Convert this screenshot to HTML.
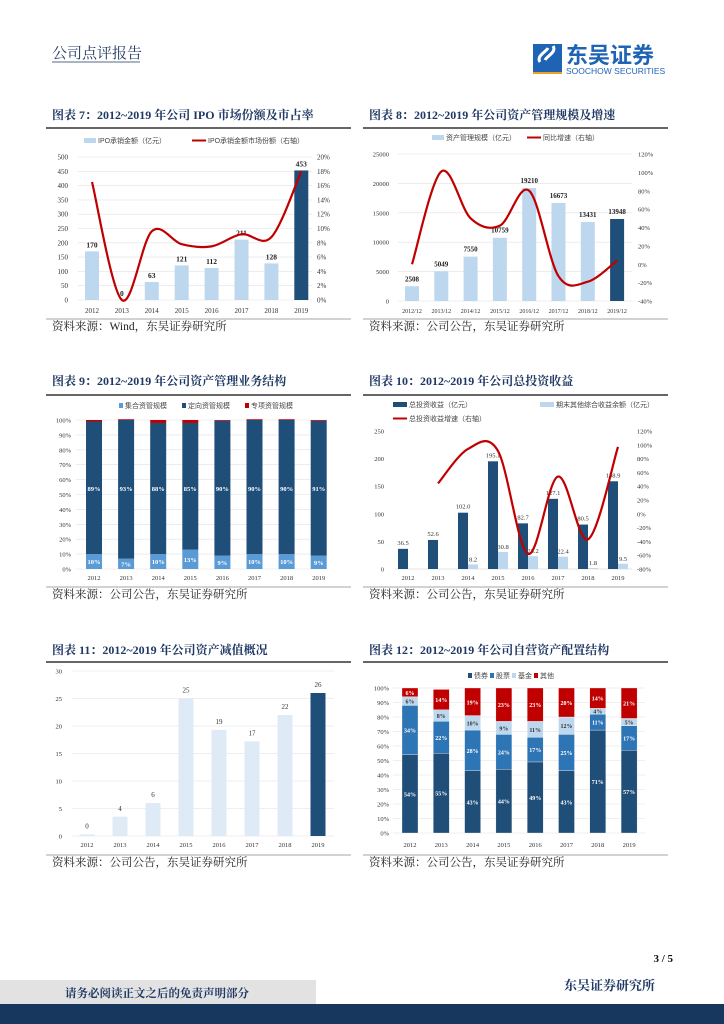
<!DOCTYPE html>
<html><head><meta charset="utf-8">
<style>
html,body{margin:0;padding:0;background:#fff}
body{width:724px;height:1024px;position:relative;overflow:hidden;font-family:"Liberation Serif","Noto Serif CJK SC",serif}
svg{position:absolute;left:0;top:0}
</style></head>
<body>
<svg id="s" width="724" height="1024" xmlns="http://www.w3.org/2000/svg"></svg>
<script>
// ---------- data ----------
const years=["2012","2013","2014","2015","2016","2017","2018","2019"];
const years12=["2012/12","2013/12","2014/12","2015/12","2016/12","2017/12","2018/12","2019/12"];
// chart 7
const ipoAmount=[170,0,63,121,112,211,128,453];
const ipoShare=[16.5,0,9.6,7.8,7.5,9.2,8.8,18];
const c7LeftTicks=[0,50,100,150,200,250,300,350,400,450,500];
const c7RightTicks=[0,2,4,6,8,10,12,14,16,18,20];
// chart 8
const amScale=[2508,5049,7550,10759,19210,16673,13431,13948];
const amGrowth=[0,101,50,42,80,-13,-19,4];
const c8LeftTicks=[0,5000,10000,15000,20000,25000];
const c8RightTicks=[-40,-20,0,20,40,60,80,100,120];
// chart 9
const amCollective=[10,7,10,13,9,10,10,9];
const amDirectional=[89,93,88,85,90.5,90,90,90.5];
const amSpecial=[1,0.5,2,2,0.5,0.5,0.5,0.5];
const c9Labels1=["10%","7%","10%","13%","9%","10%","10%","9%"];
const c9Labels2=["89%","93%","88%","85%","90%","90%","90%","91%"];
const pctTicks=[0,10,20,30,40,50,60,70,80,90,100];
// chart 10
const invIncome=[36.5,52.6,102.0,195.1,82.7,127.1,80.5,158.9];
const ociIncome=[null,null,8.2,30.8,23.2,22.4,1.8,9.5];
const invGrowth=[null,44,94,91,-58,54,-37,97];
const c10LeftTicks=[0,50,100,150,200,250];
const c10RightTicks=[-80,-60,-40,-20,0,20,40,60,80,100,120];
// chart 11
const impairment=[0.3,3.5,6,25,19.3,17.2,22,26];
const impLabels=["0","4","6","25","19","17","22","26"];
const c11Ticks=[0,5,10,15,20,25,30];
// chart 12
const bonds=[54,55,43,44,49,43,71,57];
const stocks=[34,22,28,24,17,25,11,17];
const funds=[6,8,10,9,11,12,4,5];
const others=[6,14,19,23,23,20,14,21];

// ---------- helpers ----------
const S=document.getElementById('s');
const NS="http://www.w3.org/2000/svg";
function mk(tag,attrs,parent){const e=document.createElementNS(NS,tag);for(const k in attrs)e.setAttribute(k,attrs[k]);(parent||S).appendChild(e);return e;}
function txt(x,y,t,o){const e=mk('text',Object.assign({x:x,y:y,'font-size':8,fill:'#333','font-family':'"Liberation Serif","Noto Serif CJK SC",serif'},o||{}));e.textContent=t;return e;}
function lin(d0,d1,r0,r1){return v=>r0+(v-d0)/(d1-d0)*(r1-r0);}
function smooth(pts){let d="M"+pts[0][0]+","+pts[0][1];for(let i=0;i<pts.length-1;i++){const p0=pts[i-1]||pts[i],p1=pts[i],p2=pts[i+1],p3=pts[i+2]||p2;const c1=[p1[0]+(p2[0]-p0[0])/6,p1[1]+(p2[1]-p0[1])/6],c2=[p2[0]-(p3[0]-p1[0])/6,p2[1]-(p3[1]-p1[1])/6];d+=" C"+c1[0]+","+c1[1]+" "+c2[0]+","+c2[1]+" "+p2[0]+","+p2[1];}return d;}
const NAVY="#1f4e79",LB="#bdd7ee",RED="#c00000",MB="#2e75b6",CB="#5b9bd5",VLB="#deebf7";

// ---------- page chrome ----------
let e;
e=txt(52,58,"公司点评报告",{'font-size':15,fill:'#1f3864'});


e=mk('line',{x1:52,y1:62,x2:140,y2:62,stroke:'#1f3864','stroke-width':0.8});


// logo
e=mk('g',{});


mk('rect',{x:533,y:44,width:29,height:20,fill:'#1f63b5'},e);
mk('path',{d:'M540,62 C536,56 546,52 548,48 M553,46 C557,52 547,56 545,60',stroke:'#fff','stroke-width':3,fill:'none'},e);
mk('rect',{x:533,y:64,width:29,height:8,fill:'#1f63b5'},e);
mk('rect',{x:533,y:72,width:29,height:2,fill:'#f0a020'},e);
let lt=txt(566,63,"东吴证券",{'font-size':22,'font-weight':'bold',fill:'#1f63b5','font-family':'"Noto Sans CJK SC",sans-serif'});e.appendChild(lt);
lt=txt(566,74,"SOOCHOW SECURITIES",{'font-size':8.5,fill:'#1f63b5','font-family':'"Liberation Sans",sans-serif'});e.appendChild(lt);

const panels=[
 {x:52,y:119,t:"图表 7：2012~2019 年公司 IPO 市场份额及市占率",src:"资料来源：Wind，东吴证券研究所",sy:330,ly:128,by:319},
 {x:369,y:119,t:"图表 8：2012~2019 年公司资产管理规模及增速",src:"资料来源：公司公告，东吴证券研究所",sy:330,ly:128,by:319},
 {x:52,y:385,t:"图表 9：2012~2019 年公司资产管理业务结构",src:"资料来源：公司公告，东吴证券研究所",sy:598,ly:395,by:587},
 {x:369,y:385,t:"图表 10：2012~2019 年公司总投资收益",src:"资料来源：公司公告，东吴证券研究所",sy:598,ly:395,by:587},
 {x:52,y:654,t:"图表 11：2012~2019 年公司资产减值概况",src:"资料来源：公司公告，东吴证券研究所",sy:866,ly:662,by:855},
 {x:369,y:654,t:"图表 12：2012~2019 年公司自营资产配置结构",src:"资料来源：公司公告，东吴证券研究所",sy:866,ly:662,by:855}
];
panels.forEach((p,i)=>{
 const w=305;
 e=txt(p.x,p.y,p.t,{'font-size':12,'font-weight':'bold',fill:'#1f3864'});
 
 
 e=mk('line',{x1:p.x-6,y1:p.ly,x2:p.x-6+w,y2:p.ly,stroke:'#333','stroke-width':1.5});
 
 
 e=mk('line',{x1:p.x-6,y1:p.by,x2:p.x-6+w,y2:p.by,stroke:'#888','stroke-width':0.7});
 
 
 e=txt(p.x,p.sy,p.src,{'font-size':11.5,fill:'#222'});
 
 
});

function grid(x0,x1,ys){ys.forEach(y=>{const g=mk('line',{x1:x0,y1:y,x2:x1,y2:y,stroke:'#e0e0e0','stroke-width':0.6});});}
function legendBox(x,y,c,t,w){const r=mk('rect',{x:x,y:y-5,width:w||12,height:5,fill:c});const tt=txt(x+(w||12)+2,y,t,{'font-size':7,fill:'#444','font-family':'"Liberation Sans","Noto Sans CJK SC",sans-serif'});}
function legendLine(x,y,t){const r=mk('line',{x1:x,y1:y-2.5,x2:x+14,y2:y-2.5,stroke:RED,'stroke-width':2});const tt=txt(x+16,y,t,{'font-size':7,fill:'#444','font-family':'"Liberation Sans","Noto Sans CJK SC",sans-serif'});}
function lineSeries(xs,vals,ys){const pts=[];vals.forEach((v,i)=>{if(v!==null)pts.push([xs(i),ys(v)]);});const p=mk('path',{d:smooth(pts),stroke:RED,'stroke-width':2.2,fill:'none'});}

// ---------- chart 7 ----------
{const xs=i=>92+i*29.9, y=lin(0,500,300,157), yr=lin(0,20,300,157);
 grid(78,312,c7LeftTicks.map(y));
 c7LeftTicks.forEach(t=>{const e=txt(68,y(t)+2.5,t,{'text-anchor':'end','font-size':7});});
 c7RightTicks.forEach(t=>{const e=txt(317,yr(t)+2.5,t+"%",{'font-size':7});});
 ipoAmount.forEach((v,i)=>{const b=mk('rect',{x:xs(i)-7,y:y(v),width:14,height:300-y(v),fill:i===7?NAVY:LB});
  const l=txt(xs(i),y(v)-4,v,{'text-anchor':'middle','font-size':7.5,'font-weight':'bold',fill:'#222'});
  const c=txt(xs(i),313,years[i],{'text-anchor':'middle','font-size':7});});
 lineSeries(xs,ipoShare,yr);
 legendBox(84,143,LB,"IPO承销金额（亿元）");legendLine(192,143,"IPO承销金额市场份额（右轴）");}

// ---------- chart 8 ----------
{const xs=i=>412+i*29.3, y=lin(0,25000,301,154), yr=lin(-40,120,301,154);
 grid(398,632,c8LeftTicks.map(y));
 c8LeftTicks.forEach(t=>{const e=txt(389,y(t)+2.5,t,{'text-anchor':'end','font-size':6.5});});
 c8RightTicks.forEach(t=>{const e=txt(638,yr(t)+2.5,t+"%",{'font-size':6.5});});
 amScale.forEach((v,i)=>{const b=mk('rect',{x:xs(i)-7,y:y(v),width:14,height:301-y(v),fill:i===7?NAVY:LB});
  const l=txt(xs(i),y(v)-5,v,{'text-anchor':'middle','font-size':7,'font-weight':'bold',fill:'#222'});
  const c=txt(xs(i),313,years12[i],{'text-anchor':'middle','font-size':6});});
 lineSeries(xs,amGrowth,yr);
 legendBox(432,140,LB,"资产管理规模（亿元）");legendLine(527,140,"同比增速（右轴）");}

// ---------- chart 9 ----------
{const xs=i=>94+i*32.1, y=lin(0,100,569,420);
 grid(76,327,pctTicks.map(y));
 pctTicks.forEach(t=>{const e=txt(71,y(t)+2.5,t+"%",{'text-anchor':'end','font-size':6.5});});
 years.forEach((yv,i)=>{let base=0;[[amCollective,CB],[amDirectional,NAVY],[amSpecial,RED]].forEach(([arr,c],k)=>{const v=arr[i];const b=mk('rect',{x:xs(i)-8,y:y(base+v),width:16,height:y(base)-y(base+v),fill:c});base+=v;});
  let l=txt(xs(i),y(amCollective[i]/2)+2.5,c9Labels1[i],{'text-anchor':'middle','font-size':6.5,'font-weight':'bold',fill:'#fff'});
  l=txt(xs(i),y(54)+2.5,c9Labels2[i],{'text-anchor':'middle','font-size':6.5,'font-weight':'bold',fill:'#fff'});
  const c=txt(xs(i),580,yv,{'text-anchor':'middle','font-size':6.5});});
 legendBox(119,408,CB,"集合资管规模",4);legendBox(182,408,NAVY,"定向资管规模",4);legendBox(245,408,RED,"专项资管规模",4);}

// ---------- chart 10 ----------
{const xs=i=>408+i*30, y=lin(0,250,569,431), yr=lin(-80,120,569,431);
 c10LeftTicks.forEach(t=>{const e=txt(384,y(t)+2.5,t,{'text-anchor':'end','font-size':6.5});});
 c10RightTicks.forEach(t=>{const e=txt(637,yr(t)+2.5,t+"%",{'font-size':6.5});});
 e=mk('line',{x1:395,y1:569,x2:632,y2:569,stroke:'#ccc','stroke-width':0.6});
 
 
 years.forEach((yv,i)=>{const v=invIncome[i];const b=mk('rect',{x:xs(i)-10,y:y(v),width:10,height:569-y(v),fill:NAVY});
  let l=txt(xs(i)-5,y(v)-4,v.toFixed(1),{'text-anchor':'middle','font-size':6.5});
  const o=ociIncome[i];if(o!==null){const b2=mk('rect',{x:xs(i),y:y(o),width:10,height:569-y(o),fill:LB});
   l=txt(xs(i)+5,y(o)-3,o.toFixed(1),{'text-anchor':'middle','font-size':6.5});}
  const c=txt(xs(i),580,yv,{'text-anchor':'middle','font-size':6.5});});
 lineSeries(xs,invGrowth,yr);
 legendBox(393,407,NAVY,"总投资收益（亿元）",14);legendBox(540,407,LB,"期末其他综合收益余额（亿元）",14);legendLine(393,421,"总投资收益增速（右轴）");}

// ---------- chart 11 ----------
{const xs=i=>87+i*33, y=lin(0,30,836,671);
 grid(72,334,c11Ticks.map(y));
 c11Ticks.forEach(t=>{const e=txt(62,y(t)+2.5,t,{'text-anchor':'end','font-size':6.5});});
 impairment.forEach((v,i)=>{const b=mk('rect',{x:xs(i)-7.5,y:y(v),width:15,height:836-y(v),fill:i===7?NAVY:VLB});
  const l=txt(xs(i),y(v)-6,impLabels[i],{'text-anchor':'middle','font-size':7});
  const c=txt(xs(i),847,years[i],{'text-anchor':'middle','font-size':6.5});});}

// ---------- chart 12 ----------
{const xs=i=>410+i*31.3, y=lin(0,100,833,688);
 grid(393,645,pctTicks.map(y));
 pctTicks.forEach(t=>{const e=txt(389,y(t)+2.5,t+"%",{'text-anchor':'end','font-size':6.5});});
 years.forEach((yv,i)=>{let base=0;[[bonds,NAVY,'#fff'],[stocks,MB,'#fff'],[funds,LB,'#333'],[others,RED,'#fff']].forEach(([arr,c,tc],k)=>{const v=arr[i];const top=Math.min(base+v,100);const b=mk('rect',{x:xs(i)-8,y:y(top),width:16,height:y(base)-y(top),fill:c,stroke:'#fff','stroke-width':0.3});
   const mid=(base+top)/2;const l=txt(xs(i),y(mid)+2.5,v+"%",{'text-anchor':'middle','font-size':6,'font-weight':'bold',fill:tc});base+=v;});
  const c=txt(xs(i),847,yv,{'text-anchor':'middle','font-size':6.5});});
 legendBox(468,678,NAVY,"债券",4);legendBox(490,678,MB,"股票",4);legendBox(512,678,LB,"基金",4);legendBox(534,678,RED,"其他",4);}

// ---------- footer ----------
e=txt(673,962,"3 / 5",{'text-anchor':'end','font-size':11,'font-weight':'bold',fill:'#111'});


e=txt(655,990,"东吴证券研究所",{'text-anchor':'end','font-size':13,'font-weight':'bold',fill:'#1f3864'});


e=mk('rect',{x:0,y:980,width:316,height:25,fill:'#e2e2e2'});


e=mk('rect',{x:0,y:1004,width:724,height:20,fill:'#17375e'});


e=txt(65,997,"请务必阅读正文之后的免责声明部分",{'font-size':11.5,'font-weight':'bold',fill:'#1f3864'});


</script>
</body></html>
